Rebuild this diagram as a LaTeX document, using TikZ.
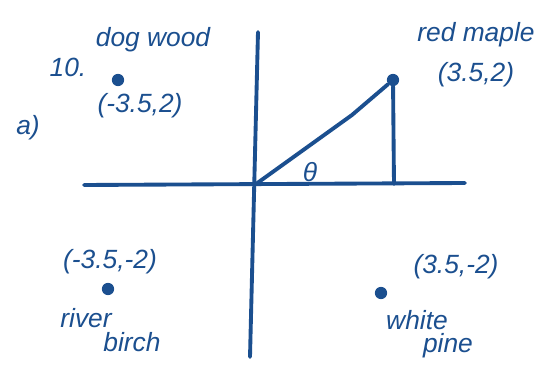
\documentclass[tikz,border=0pt]{standalone}
\usepackage{fontspec}
\setmainfont{Liberation Sans}
\definecolor{ink}{HTML}{1B4F8F}
\begin{document}
\begin{tikzpicture}[x=0.02cm,y=-0.02cm,
  pen/.style={draw=ink,line width=2.2pt,line cap=round,line join=round},
  dotnode/.style={circle,fill=ink,inner sep=0pt,minimum size=7pt},
  lbl/.style={text=ink,font=\fontsize{15}{17}\selectfont\itshape,inner sep=1pt}]
\useasboundingbox[fill=white] (0,0) rectangle (549,368);
% axes
\coordinate (ytop) at (258,32);
\coordinate (ybot) at (250,357);
\coordinate (xl) at (84,185);
\coordinate (xr) at (465,183);
\draw[pen] (ytop) -- (ybot);
\draw[pen] (xl) -- (xr);
% points
\node[dotnode] (rm) at (393,80) {};
\node[dotnode] (dw) at (118,80) {};
\node[dotnode] (rb) at (108,289) {};
\node[dotnode] (wp) at (381,293) {};
% triangle
\coordinate (O) at (256,184);
\coordinate (bend) at (352,115);
\coordinate (foot) at (394,184);
\draw[pen] (O) -- (bend) -- (rm) -- (foot);
% labels
\node[lbl] (ten) at (68,67) {10.};
\node[lbl] (a) at (28,128) {a)};
\node[lbl] (dwn) at (153,40) {dog wood};
\node[lbl] (dwc) at (140,106) {(-3.5,2)};
\node[lbl] (rmn) at (476,35) {red maple};
\node[lbl] (rmc) at (476,75) {(3.5,2)};
\node[lbl] (th) at (310,172) {θ};
\node[lbl] (rbc) at (110,262) {(-3.5,-2)};
\node[lbl] (rbn1) at (86,318) {river};
\node[lbl] (rbn2) at (132,342) {birch};
\node[lbl] (wpc) at (456,267) {(3.5,-2)};
\node[lbl] (wpn1) at (417,320) {white};
\node[lbl] (wpn2) at (448,346) {pine};
\end{tikzpicture}
\end{document}
